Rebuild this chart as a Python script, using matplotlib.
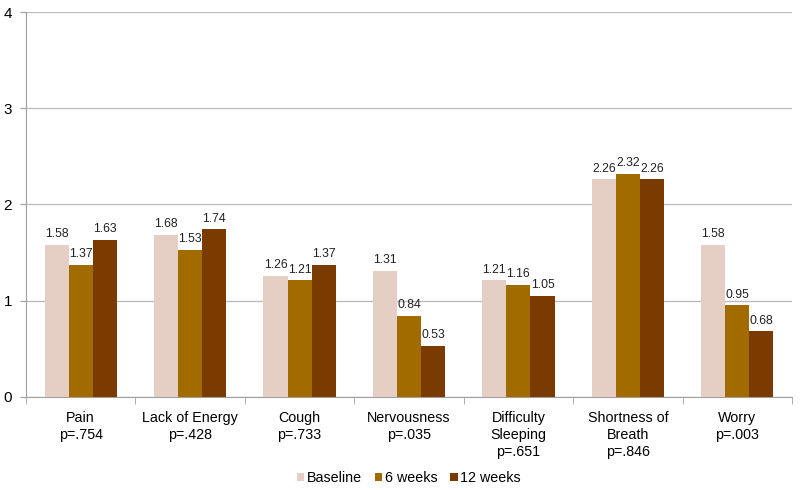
import matplotlib
matplotlib.use("Agg")
import matplotlib.pyplot as plt
import numpy as np

plt.rcParams['font.family'] = ['Liberation Sans', 'DejaVu Sans']

categories = ["Pain\np=.754", "Lack of Energy\np=.428", "Cough\np=.733", "Nervousness\np=.035",
              "Difficulty\nSleeping\np=.651", "Shortness of\nBreath\np=.846", "Worry\np=.003"]
series_names = ["Baseline", "6 weeks", "12 weeks"]
baseline = [1.58, 1.68, 1.26, 1.31, 1.21, 2.26, 1.58]
week6 = [1.37, 1.53, 1.21, 0.84, 1.16, 2.32, 0.95]
week12 = [1.63, 1.74, 1.37, 0.53, 1.05, 2.26, 0.68]
yticks = [0, 1, 2, 3, 4]

colors = ["#E5CEC4", "#A16B00", "#7B3A00"]

fig = plt.figure(figsize=(8, 4.9), dpi=100)
ax = fig.add_axes([0.0325, 0.19, 0.9575, 0.7855])

x = np.arange(len(categories))
w = 0.22
for i, (vals, name) in enumerate(zip([baseline, week6, week12], series_names)):
    pos = x + (i - 1) * w
    ax.bar(pos, vals, width=w, color=colors[i], label=name, zorder=3)
    for xp, v in zip(pos, vals):
        ax.annotate(f"{v:.2f}", (xp, v), xytext=(0, 3.5), textcoords="offset points",
                    ha="center", va="bottom", fontsize=8.8, color="#222222")

ax.set_xlim(-0.5, len(categories) - 0.5)
ax.set_ylim(0, 4)
ax.set_yticks(yticks)
ax.set_yticklabels([str(t) for t in yticks], fontsize=11)
ax.yaxis.grid(True, color="#BDBDBD", linewidth=1, zorder=0)
ax.set_axisbelow(True)

ax.set_xticks(x)
ax.set_xticklabels(categories, fontsize=10.3, linespacing=1.3)
ax.tick_params(axis="x", length=0, pad=10)
ax.set_xticks(np.arange(len(categories) + 1) - 0.5, minor=True)
ax.tick_params(axis="x", which="minor", length=5, color="#A0A0A0", direction="out")
ax.tick_params(axis="y", length=4, color="#A0A0A0", pad=6)

for s in ["top", "right"]:
    ax.spines[s].set_visible(False)
for s in ["left", "bottom"]:
    ax.spines[s].set_color("#A0A0A0")

ax.legend(loc="upper center", bbox_to_anchor=(0.5, -0.16), ncol=3, frameon=False,
          fontsize=10.3, handlelength=0.5, handleheight=0.5, handletextpad=0.2,
          columnspacing=0.9)

fig.savefig("out.png", dpi=100)
